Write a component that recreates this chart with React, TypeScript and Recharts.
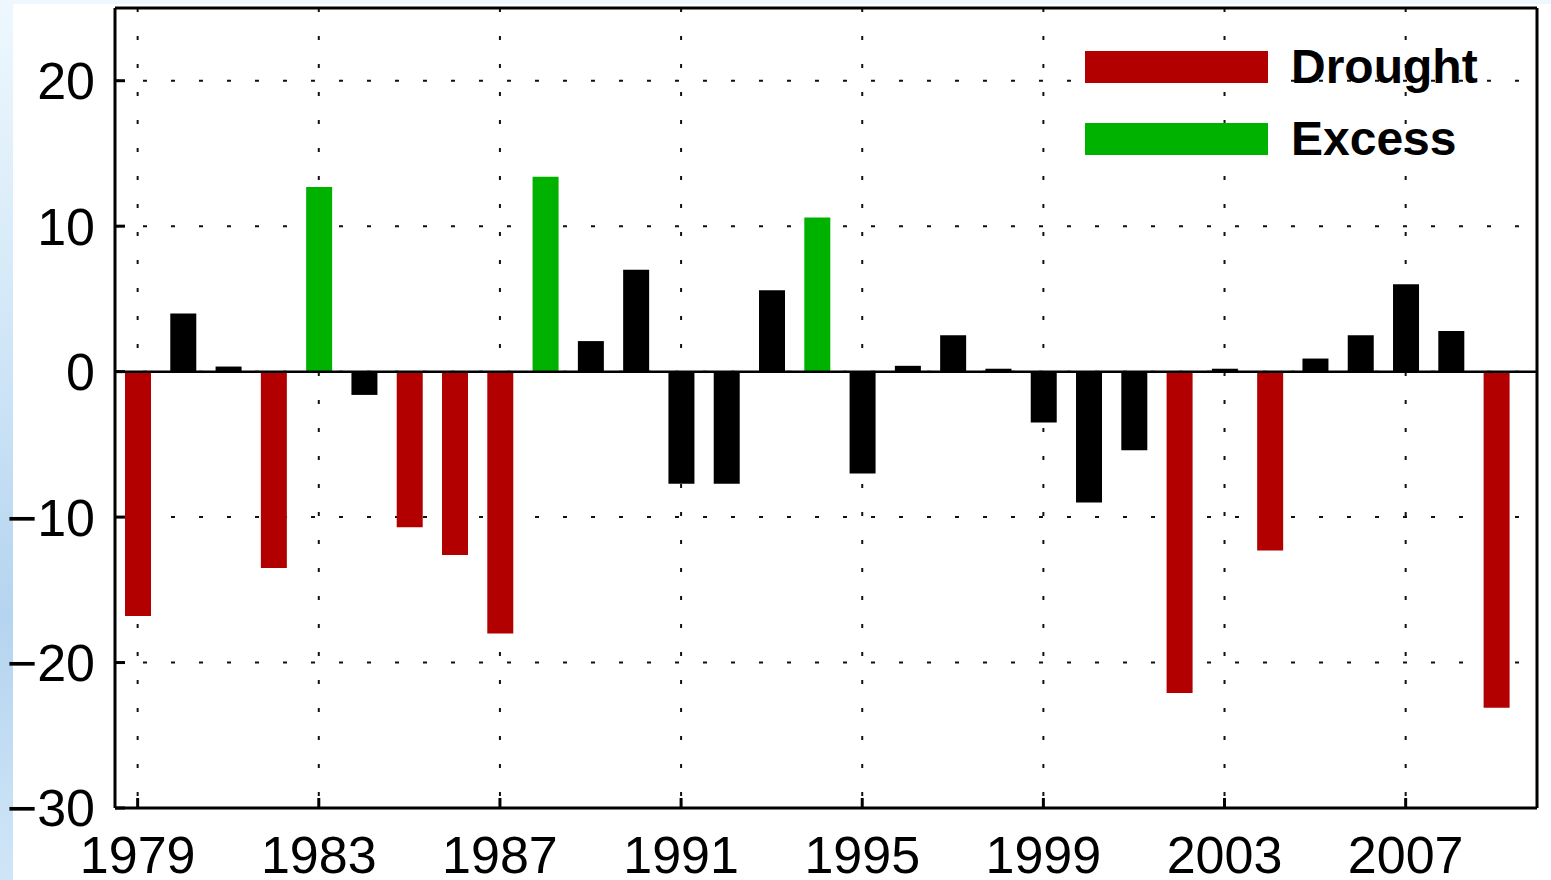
import {
  BarChart, Bar, Cell, XAxis, YAxis, CartesianGrid, ReferenceLine, Legend,
} from 'recharts'

const years = [
  1979, 1980, 1981, 1982, 1983, 1984, 1985, 1986, 1987, 1988,
  1989, 1990, 1991, 1992, 1993, 1994, 1995, 1996, 1997, 1998,
  1999, 2000, 2001, 2002, 2003, 2004, 2005, 2006, 2007, 2008, 2009,
]

const anomaly = [
  -16.8, 4.0, 0.35, -13.5, 12.7, -1.6, -10.7, -12.6, -18.0, 13.4,
  2.1, 7.0, -7.7, -7.7, 5.6, 10.6, -7.0, 0.4, 2.5, 0.2,
  -3.5, -9.0, -5.4, -22.1, 0.2, -12.3, 0.9, 2.5, 6.0, 2.8, -23.1,
]

// D = drought, E = excess, N = normal
const kind = [
  'D', 'N', 'N', 'D', 'E', 'N', 'D', 'D', 'D', 'E',
  'N', 'N', 'N', 'N', 'N', 'E', 'N', 'N', 'N', 'N',
  'N', 'N', 'N', 'D', 'N', 'D', 'N', 'N', 'N', 'N', 'D',
]

const xTicks = [1979, 1983, 1987, 1991, 1995, 1999, 2003, 2007]
const yTicks = [-30, -20, -10, 0, 10, 20]

const colors: Record<string, string> = { D: '#b20000', E: '#00b200', N: '#000000' }

const legendItems = [
  { label: 'Drought', color: colors.D },
  { label: 'Excess', color: colors.E },
]

const data = years.map((year, i) => ({ year, value: anomaly[i], kind: kind[i] }))

const font = '"Liberation Sans", Arial, sans-serif'
const minus = (v: number) => String(v).replace('-', '\u2212')

function LegendBox() {
  return (
    <div style={{ fontFamily: font }}>
      {legendItems.map((it, i) => (
        <div key={it.label} style={{ display: 'flex', alignItems: 'center', height: 32, marginBottom: i === 0 ? 40 : 0 }}>
          <div style={{ width: 183, height: 32, background: it.color }} />
          <span style={{ marginLeft: 23, fontSize: 48, fontWeight: 'bold', color: '#000', lineHeight: '32px' }}>{it.label}</span>
        </div>
      ))}
    </div>
  )
}

export default function App() {
  const tickStyle = { fontSize: 52, fill: '#000', fontFamily: font }
  const axisLine = { stroke: '#000', strokeWidth: 3 }
  return (
    <div style={{
      position: 'absolute', left: 0, top: 0, width: 1551, height: 880,
      background: 'linear-gradient(to bottom, #eef8fe 0%, #cfe6f7 40%, #b5d4ef 70%, #cfe6f7 100%)',
      overflow: 'hidden',
    }}>
      <div style={{ position: 'absolute', left: 13, top: 4, width: 1538, height: 876, background: '#fff' }} />
      <div style={{ position: 'absolute', left: 0, top: 0 }}>
        <BarChart width={1551} height={880} data={data} margin={{ top: 7, right: 13, bottom: 0, left: 0 }}>
          <CartesianGrid stroke="#111" strokeWidth={2} strokeDasharray="4 24" />
          <XAxis
            dataKey="year" type="number" domain={[1978.5, 2009.9]} ticks={xTicks}
            allowDataOverflow height={72} tick={tickStyle}
            axisLine={axisLine} tickLine={axisLine} tickSize={-10} tickMargin={38}
          />
          <XAxis
            xAxisId="top" orientation="top" dataKey="year" type="number" domain={[1978.5, 2009.9]} ticks={xTicks}
            allowDataOverflow height={1} tick={false}
            axisLine={axisLine} tickLine={axisLine} tickSize={-10}
          />
          <YAxis
            domain={[-30, 25]} ticks={yTicks} width={115} tick={tickStyle} tickFormatter={minus}
            axisLine={axisLine} tickLine={axisLine} tickSize={-10} tickMargin={30}
          />
          <YAxis
            yAxisId="right" orientation="right" domain={[-30, 25]} ticks={yTicks} width={1} tick={false}
            axisLine={axisLine} tickLine={axisLine} tickSize={-10}
          />
          <ReferenceLine y={0} stroke="#000" strokeWidth={2.5} />
          <Bar dataKey="value" barSize={26} isAnimationActive={false}>
            {data.map((d) => (
              <Cell key={d.year} fill={colors[d.kind]} />
            ))}
          </Bar>
          <Legend
            layout="vertical" align="center" verticalAlign="middle"
            content={() => <LegendBox />}
            wrapperStyle={{ position: 'absolute', left: 1085, top: 51, width: 440, height: 110 }}
          />
        </BarChart>
      </div>
    </div>
  )
}
